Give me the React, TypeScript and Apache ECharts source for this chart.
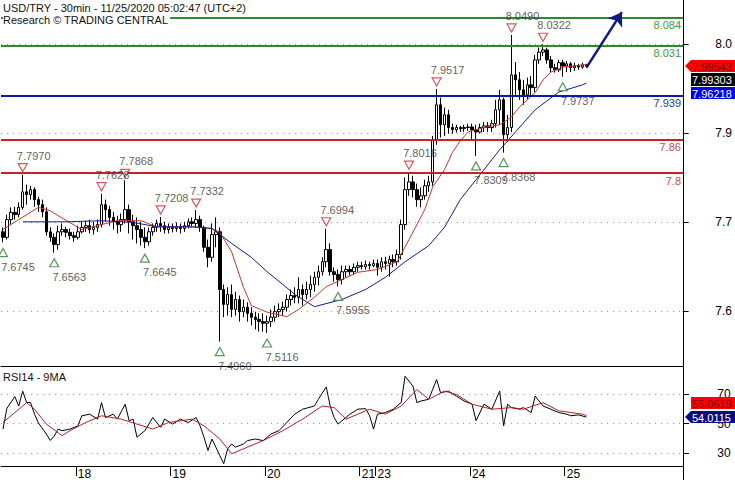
import React, { useEffect, useRef } from 'react';
import * as echarts from 'echarts';

// trading sessions: [day, first hour, last hour] (hourly slots)
const sessions: number[][] = [[17, 5, 23], [18, 0, 23], [19, 0, 23], [20, 0, 23], [21, 0, 3], [23, 0, 23], [24, 0, 23], [25, 0, 5]];
const futureSlots = 24;

// [open, close, low, high]
const candles: number[][] = [
  [7.694, 7.684, 7.675, 7.702], [7.684, 7.716, 7.680, 7.725], [7.716, 7.729, 7.707, 7.738], [7.729, 7.725, 7.716, 7.739],
  [7.725, 7.738, 7.720, 7.747], [7.738, 7.766, 7.734, 7.797], [7.766, 7.761, 7.743, 7.779], [7.761, 7.770, 7.752, 7.777],
  [7.770, 7.752, 7.739, 7.774], [7.752, 7.743, 7.730, 7.757], [7.743, 7.730, 7.720, 7.752], [7.730, 7.694, 7.687, 7.738],
  [7.694, 7.684, 7.676, 7.702], [7.684, 7.671, 7.6563, 7.691], [7.671, 7.694, 7.662, 7.705], [7.694, 7.698, 7.687, 7.709],
  [7.698, 7.693, 7.684, 7.703], [7.693, 7.687, 7.680, 7.700], [7.687, 7.684, 7.676, 7.694], [7.684, 7.694, 7.680, 7.705],
  [7.694, 7.702, 7.691, 7.712], [7.702, 7.705, 7.694, 7.714], [7.705, 7.698, 7.691, 7.716], [7.698, 7.702, 7.689, 7.712],
  [7.702, 7.707, 7.694, 7.716], [7.707, 7.743, 7.702, 7.7628], [7.743, 7.734, 7.712, 7.752], [7.734, 7.720, 7.705, 7.741],
  [7.720, 7.712, 7.698, 7.730], [7.712, 7.707, 7.691, 7.723], [7.707, 7.716, 7.694, 7.727], [7.716, 7.734, 7.709, 7.7868],
  [7.734, 7.712, 7.691, 7.743], [7.712, 7.705, 7.680, 7.725], [7.705, 7.698, 7.673, 7.720], [7.698, 7.684, 7.669, 7.712],
  [7.684, 7.676, 7.6645, 7.702], [7.676, 7.694, 7.669, 7.702], [7.694, 7.702, 7.687, 7.709], [7.702, 7.709, 7.694, 7.716],
  [7.709, 7.705, 7.694, 7.7208], [7.705, 7.698, 7.691, 7.712], [7.698, 7.702, 7.691, 7.709], [7.702, 7.700, 7.693, 7.709],
  [7.700, 7.703, 7.694, 7.711], [7.703, 7.700, 7.691, 7.709], [7.700, 7.705, 7.694, 7.712], [7.705, 7.712, 7.700, 7.718],
  [7.712, 7.709, 7.702, 7.720], [7.709, 7.716, 7.702, 7.7332], [7.716, 7.702, 7.694, 7.723], [7.702, 7.666, 7.658, 7.705],
  [7.666, 7.648, 7.630, 7.680], [7.648, 7.689, 7.640, 7.709], [7.689, 7.694, 7.666, 7.720], [7.694, 7.590, 7.4960, 7.702],
  [7.590, 7.563, 7.540, 7.599], [7.563, 7.581, 7.543, 7.594], [7.581, 7.554, 7.540, 7.599], [7.554, 7.572, 7.543, 7.586],
  [7.572, 7.550, 7.532, 7.579], [7.550, 7.558, 7.540, 7.572], [7.558, 7.547, 7.532, 7.567], [7.547, 7.540, 7.525, 7.558],
  [7.540, 7.536, 7.518, 7.550], [7.536, 7.532, 7.514, 7.547], [7.532, 7.529, 7.514, 7.547], [7.529, 7.532, 7.5116, 7.543],
  [7.532, 7.540, 7.522, 7.554], [7.540, 7.550, 7.532, 7.561], [7.550, 7.554, 7.540, 7.565], [7.554, 7.558, 7.543, 7.568],
  [7.558, 7.572, 7.550, 7.581], [7.572, 7.579, 7.561, 7.590], [7.579, 7.576, 7.565, 7.594], [7.576, 7.590, 7.565, 7.612],
  [7.590, 7.581, 7.561, 7.599], [7.581, 7.590, 7.572, 7.604], [7.590, 7.599, 7.576, 7.615], [7.599, 7.612, 7.586, 7.622],
  [7.612, 7.622, 7.597, 7.633], [7.622, 7.640, 7.615, 7.648], [7.640, 7.662, 7.630, 7.6994], [7.662, 7.622, 7.615, 7.673],
  [7.622, 7.617, 7.604, 7.630], [7.617, 7.608, 7.5955, 7.626], [7.608, 7.622, 7.599, 7.633], [7.622, 7.626, 7.612, 7.633],
  [7.626, 7.622, 7.615, 7.633], [7.622, 7.630, 7.617, 7.637], [7.630, 7.633, 7.622, 7.640], [7.633, 7.631, 7.626, 7.640],
  [7.631, 7.635, 7.626, 7.642], [7.635, 7.633, 7.626, 7.640], [7.633, 7.637, 7.630, 7.644], [7.637, 7.630, 7.615, 7.644],
  [7.630, 7.640, 7.622, 7.648], [7.640, 7.637, 7.626, 7.649], [7.637, 7.644, 7.613, 7.651], [7.644, 7.640, 7.630, 7.653],
  [7.640, 7.653, 7.633, 7.662], [7.653, 7.707, 7.644, 7.716], [7.707, 7.770, 7.698, 7.792], [7.770, 7.784, 7.759, 7.8016],
  [7.784, 7.770, 7.756, 7.795], [7.770, 7.752, 7.739, 7.781], [7.752, 7.759, 7.738, 7.774], [7.759, 7.777, 7.752, 7.788],
  [7.777, 7.784, 7.766, 7.795], [7.784, 7.860, 7.777, 7.867], [7.860, 7.923, 7.851, 7.9517], [7.923, 7.887, 7.864, 7.936],
  [7.887, 7.905, 7.867, 7.918], [7.905, 7.882, 7.871, 7.914], [7.882, 7.878, 7.871, 7.889], [7.878, 7.882, 7.873, 7.887],
  [7.882, 7.880, 7.874, 7.885], [7.880, 7.882, 7.874, 7.887], [7.882, 7.883, 7.876, 7.889], [7.883, 7.878, 7.860, 7.889],
  [7.878, 7.874, 7.8309, 7.887], [7.874, 7.882, 7.871, 7.889], [7.882, 7.885, 7.874, 7.892], [7.885, 7.882, 7.874, 7.892],
  [7.882, 7.889, 7.874, 7.896], [7.889, 7.914, 7.882, 7.932], [7.914, 7.932, 7.887, 7.950], [7.932, 7.869, 7.8368, 7.936],
  [7.869, 7.882, 7.856, 7.905], [7.882, 7.977, 7.874, 8.0490], [7.977, 7.968, 7.941, 8.000], [7.968, 7.950, 7.932, 7.982],
  [7.950, 7.941, 7.923, 7.968], [7.941, 7.959, 7.932, 7.972], [7.959, 7.954, 7.939, 7.975], [7.954, 8.004, 7.946, 8.013],
  [8.004, 8.018, 7.997, 8.026], [8.018, 8.022, 8.011, 8.0322], [8.022, 8.004, 7.997, 8.026], [8.004, 7.990, 7.982, 8.011],
  [7.990, 7.986, 7.981, 7.997], [7.986, 7.999, 7.982, 8.004], [7.999, 7.993, 7.9737, 8.004], [7.993, 7.997, 7.982, 8.002],
  [7.997, 7.990, 7.982, 8.000], [7.990, 7.993, 7.984, 7.999], [7.993, 7.991, 7.986, 7.997], [7.991, 7.995, 7.988, 7.999],
  [7.995, 7.99303, 7.990, 7.997],
];

// moving averages: [slot, value]
const maFast: number[][] = [[0, 7.698], [4, 7.716], [9, 7.738], [12, 7.732], [14, 7.723], [20, 7.698], [25, 7.707], [29, 7.714], [35, 7.714], [39, 7.703], [48, 7.703], [53, 7.700], [55, 7.693], [58, 7.658], [61, 7.594], [63, 7.561], [67, 7.549], [72, 7.541], [75, 7.554], [79, 7.576], [82, 7.595], [86, 7.608], [90, 7.621], [95, 7.626], [100, 7.640], [103, 7.680], [107, 7.734], [109, 7.775], [112, 7.806], [114, 7.837], [116, 7.858], [118, 7.874], [122, 7.882], [126, 7.887], [129, 7.901], [131, 7.919], [135, 7.945], [137, 7.968], [139, 7.982], [142, 7.991], [147, 7.995], [148, 7.99543]];
const maSlow: number[][] = [[5, 7.712], [16, 7.712], [25, 7.714], [33, 7.711], [39, 7.703], [48, 7.703], [53, 7.700], [58, 7.673], [63, 7.648], [67, 7.622], [71, 7.599], [74, 7.581], [79, 7.559], [86, 7.572], [92, 7.590], [97, 7.612], [102, 7.640], [108, 7.669], [112, 7.702], [116, 7.752], [120, 7.788], [126, 7.842], [135, 7.914], [141, 7.946], [147, 7.959], [148, 7.96218]];

// RSI14 and its 9MA: [slot, value]
const rsi: number[][] = [[0, 45.8], [1, 60], [3, 68], [4, 61.6], [5, 71.8], [6, 64], [7, 64], [8, 56], [9, 50], [11, 42.4], [12, 38], [13, 41], [14, 45.8], [15, 44.7], [17, 45.8], [19, 48], [20, 54.9], [22, 56], [24, 52.6], [25, 63.9], [26, 53.7], [28, 56], [29, 52.6], [31, 62.8], [32, 51.5], [33, 52.6], [34, 40.2], [36, 44.7], [38, 53.7], [40, 47], [41, 52.6], [43, 49.2], [45, 52.6], [47, 50.3], [49, 53.7], [50, 48], [51, 40.2], [52, 31.1], [53, 39], [54, 33.4], [55, 27.7], [56, 22.1], [57, 32.3], [58, 35.6], [59, 33.4], [61, 35.6], [62, 37.9], [64, 39], [66, 37.9], [68, 42.4], [70, 44.7], [72, 50.3], [74, 56], [76, 59.4], [79, 61.6], [80, 66.2], [82, 74.7], [83, 61.6], [84, 53.7], [85, 49.2], [88, 56], [90, 59.4], [92, 59.8], [93, 54.9], [94, 45.8], [95, 56], [97, 57.1], [99, 59.4], [101, 63.9], [102, 82], [104, 75.2], [105, 63.9], [106, 65], [108, 66.2], [110, 79.7], [111, 70.7], [113, 71.8], [115, 68.4], [117, 65], [119, 62.8], [120, 51.5], [122, 62.8], [124, 59.4], [126, 71.8], [127, 48], [128, 62.8], [129, 60.5], [131, 59.4], [132, 60.5], [134, 57.1], [135, 68.4], [137, 61.6], [139, 59.4], [141, 57.1], [143, 56], [144, 54.9], [146, 55.5], [148, 54.0115]];
const rsiMa: number[][] = [[0, 50.3], [3, 57.1], [6, 63.9], [8, 59.4], [11, 49.2], [15, 41.3], [17, 44.7], [21, 50.3], [25, 54.9], [30, 52.6], [34, 49.2], [38, 45.8], [42, 50.3], [48, 52.6], [51, 48], [55, 39], [58, 28.9], [62, 33.4], [66, 37.9], [71, 44.7], [76, 52.6], [81, 61.6], [84, 60.5], [87, 52.6], [90, 56], [93, 59.4], [97, 56], [101, 61.6], [105, 72.9], [108, 66.2], [112, 71.8], [115, 69.5], [119, 62.8], [124, 59.4], [129, 60.5], [132, 59.4], [137, 63.9], [141, 58.3], [147, 56], [148, 55.0619]];

// swing annotations
const highSlots = [5, 25, 31, 40, 49, 82, 103, 110, 129, 137];
const highValues = [7.7970, 7.7628, 7.7868, 7.7208, 7.7332, 7.6994, 7.8016, 7.9517, 8.0490, 8.0322];
const lowSlots = [0, 13, 36, 55, 67, 85, 120, 127, 142];
const lowValues = [7.6745, 7.6563, 7.6645, 7.4960, 7.5116, 7.5955, 7.8309, 7.8368, 7.9737];

// key levels
const resistances = [8.084, 8.031];
const pivot = [7.939];
const supports = [7.86, 7.8];

// forecast arrow [slot, value]
const arrowFrom = [148, 7.990];
const arrowTo = [157, 8.090];

const priceTickLabels = ['7.6', '7.7', '7.9', '8.0'];
const priceTags = [7.99543, 7.99303, 7.96218];
const rsiTags = [55.0619, 54.0115];

const FONT = '"Liberation Sans", Arial, sans-serif';

export default function App() {
  const ref = useRef<HTMLDivElement>(null);
  useEffect(() => {
    const chart = echarts.init(ref.current!, null, { renderer: 'svg' });

    const categories: string[] = [];
    const dayStart = new Set<number>();
    sessions.forEach(([d, a, b]) => {
      for (let h = a; h <= b; h++) {
        if (h === 0) dayStart.add(categories.length);
        categories.push(`${d}|${h}`);
      }
    });
    for (let i = 0; i < futureSlots; i++) categories.push(`|f${i}`);
    const isDay = (i: number) => dayStart.has(i);

    const L = 1, R = 52;
    const levelLine = (v: number, color: string, text: string) => ({
      yAxis: v,
      lineStyle: { color, width: 2, type: 'solid' },
      label: { show: true, position: 'insideEndBottom', formatter: String(v), color: text, fontSize: 11, fontFamily: FONT, distance: 2 },
    });

    const tagText = (x: number, y: number, txt: string, fill: string) => ({
      type: 'text', x, y, z: 101,
      style: { text: txt, fill, font: `11px ${FONT}`, verticalAlign: 'middle', align: 'left' },
    });

    const dotted = { color: '#9a9a9a', type: [1, 5], width: 1 };

    const option: any = {
      animation: false,
      backgroundColor: '#ffffff',
      textStyle: { fontFamily: FONT },
      grid: [
        { left: L, right: R, top: 0, height: 366 },
        { left: L, right: R, top: 366, height: 101 },
        { left: L, right: R, top: 44, height: 267 },
        { left: L, right: R, top: 394, height: 59 },
      ],
      xAxis: [
        { type: 'category', gridIndex: 0, data: categories, boundaryGap: true, axisLine: { show: true, onZero: false, lineStyle: { color: '#000', width: 1 } }, axisTick: { show: false }, axisLabel: { show: false }, splitLine: { show: false } },
        {
          type: 'category', gridIndex: 1, data: categories, boundaryGap: true,
          axisLine: { show: true, onZero: false, lineStyle: { color: '#000', width: 1 } },
          axisTick: { show: true, interval: isDay, length: 10, lineStyle: { color: '#000' } },
          axisLabel: { show: true, interval: isDay, formatter: (v: string) => v.split('|')[0], align: 'left', margin: 2, color: '#000', fontSize: 12, fontFamily: FONT },
          splitLine: { show: false },
        },
        { type: 'value', gridIndex: 2, min: 1, max: 2, show: false, axisLine: { onZero: false } },
        { type: 'value', gridIndex: 3, min: 1, max: 2, show: false, axisLine: { onZero: false } },
      ],
      yAxis: [
        { type: 'value', gridIndex: 0, position: 'right', min: 7.452, max: 8.112, axisLine: { show: true, onZero: false, lineStyle: { color: '#000' } }, axisTick: { show: false }, axisLabel: { show: false }, splitLine: { show: false } },
        { type: 'value', gridIndex: 1, position: 'right', min: 20.5, max: 89, axisLine: { show: true, onZero: false, lineStyle: { color: '#000' } }, axisTick: { show: false }, axisLabel: { show: false }, splitLine: { show: false } },
        {
          type: 'value', gridIndex: 2, position: 'right', min: 1, max: 4, interval: 1,
          axisLine: { show: false, onZero: false }, axisTick: { show: true, inside: false, length: 6, lineStyle: { color: '#000' } },
          axisLabel: { show: true, formatter: (v: number) => priceTickLabels[Math.round(v) - 1] || '', align: 'center', margin: 41, color: '#000', fontSize: 12, fontFamily: FONT },
          splitLine: { show: true, lineStyle: dotted },
        },
        {
          type: 'value', gridIndex: 3, position: 'right', min: 30, max: 70, interval: 20,
          axisLine: { show: false, onZero: false }, axisTick: { show: true, inside: false, length: 6, lineStyle: { color: '#000' } },
          axisLabel: { show: true, align: 'center', margin: 41, color: '#000', fontSize: 12, fontFamily: FONT },
          splitLine: { show: true, lineStyle: dotted },
        },
      ],
      series: [
        { type: 'line', xAxisIndex: 2, yAxisIndex: 2, data: [], silent: true },
        { type: 'line', xAxisIndex: 3, yAxisIndex: 3, data: [], silent: true },
        {
          type: 'candlestick', xAxisIndex: 0, yAxisIndex: 0, data: candles, barWidth: 3,
          itemStyle: { color: '#ffffff', color0: '#000000', borderColor: '#000000', borderColor0: '#000000', borderWidth: 1 },
          markLine: {
            silent: true, symbol: ['none', 'none'], symbolSize: 13,
            data: [
              ...resistances.map((v) => levelLine(v, '#2f8a2f', '#3f9a3f')),
              ...pivot.map((v) => levelLine(v, '#0a1aa8', '#2a3a9a')),
              ...supports.map((v) => levelLine(v, '#cc1f1f', '#c84a4a')),
              [
                { coord: arrowFrom, symbol: 'none', lineStyle: { color: '#0d1b7a', width: 2.5, type: 'solid' }, label: { show: false } },
                { coord: arrowTo, symbol: 'arrow' },
              ],
            ],
          },
          z: 3,
        },
        { type: 'line', xAxisIndex: 0, yAxisIndex: 0, data: maFast, showSymbol: false, smooth: false, lineStyle: { color: '#c0392b', width: 1 }, z: 4 },
        { type: 'line', xAxisIndex: 0, yAxisIndex: 0, data: maSlow, showSymbol: false, smooth: false, lineStyle: { color: '#1a1a8c', width: 1 }, z: 4 },
        {
          type: 'scatter', xAxisIndex: 0, yAxisIndex: 0, data: highSlots.map((s, i) => [s, highValues[i]]),
          symbol: 'triangle', symbolRotate: 180, symbolSize: [9, 8], symbolOffset: [0, -7],
          itemStyle: { color: '#ffffff', borderColor: '#c83232', borderWidth: 1.2 }, z: 6,
        },
        {
          type: 'scatter', xAxisIndex: 0, yAxisIndex: 0, data: lowSlots.map((s, i) => [s, lowValues[i]]),
          symbol: 'triangle', symbolSize: [9, 8], symbolOffset: [0, 10],
          itemStyle: { color: '#ffffff', borderColor: '#2e7d32', borderWidth: 1.2 }, z: 6,
        },
        {
          type: 'scatter', xAxisIndex: 0, yAxisIndex: 0, data: highSlots.map((s, i) => [s, highValues[i]]),
          symbol: 'circle', symbolSize: 1, itemStyle: { color: 'rgba(0,0,0,0)' },
          label: { show: true, position: 'inside', offset: [11, -19], formatter: (p: any) => highValues[p.dataIndex].toFixed(4), color: '#333', fontSize: 11, fontFamily: FONT },
          z: 7,
        },
        {
          type: 'scatter', xAxisIndex: 0, yAxisIndex: 0, data: lowSlots.map((s, i) => [s, lowValues[i]]),
          symbol: 'circle', symbolSize: 1, itemStyle: { color: 'rgba(0,0,0,0)' },
          label: { show: true, position: 'inside', offset: [15, 24], formatter: (p: any) => lowValues[p.dataIndex].toFixed(4), color: '#333', fontSize: 11, fontFamily: FONT },
          z: 7,
        },
        { type: 'line', xAxisIndex: 1, yAxisIndex: 1, data: rsi, showSymbol: false, lineStyle: { color: '#000000', width: 1 }, z: 4 },
        { type: 'line', xAxisIndex: 1, yAxisIndex: 1, data: rsiMa, showSymbol: false, lineStyle: { color: '#b22222', width: 1 }, z: 5 },
      ],
      graphic: [
        { type: 'text', x: 3, y: 2, z: 100, style: { text: 'USD/TRY - 30min - 11/25/2020 05:02:47 (UTC+2)', fill: '#111', font: `11px ${FONT}`, backgroundColor: '#ffffff' } },
        { type: 'text', x: 3, y: 14, z: 100, style: { text: 'Research © TRADING CENTRAL', fill: '#111', font: `11px ${FONT}`, backgroundColor: '#ffffff', padding: [0, 2, 1, 0] } },
        { type: 'text', x: 3, y: 371, z: 100, style: { text: 'RSI14 - 9MA', fill: '#111', font: `11px ${FONT}` } },
        // price tags
        { type: 'polygon', z: 100, shape: { points: [[685, 66], [691, 60], [735, 60], [735, 72], [691, 72]] }, style: { fill: '#ff0000' } },
        tagText(692, 66.5, priceTags[0].toFixed(5), '#7a0000'),
        { type: 'rect', z: 100, shape: { x: 691, y: 73, width: 44, height: 13 }, style: { fill: '#000000' } },
        tagText(692, 80, priceTags[1].toFixed(5), '#ffffff'),
        { type: 'rect', z: 100, shape: { x: 691, y: 87, width: 44, height: 12 }, style: { fill: '#0000ee' } },
        tagText(692, 93.5, priceTags[2].toFixed(5), '#ffffff'),
        // rsi tags
        { type: 'rect', z: 100, shape: { x: 691, y: 397, width: 44, height: 12 }, style: { fill: '#ff0000' } },
        tagText(692, 403.5, rsiTags[0].toFixed(4), '#7a0000'),
        { type: 'polygon', z: 100, shape: { points: [[685, 417], [691, 411], [735, 411], [735, 423], [691, 423]] }, style: { fill: '#0a0a80' } },
        tagText(692, 417.5, rsiTags[1].toFixed(4), '#ffffff'),
        { type: 'line', z: 100, shape: { x1: 683.5, y1: 467, x2: 683.5, y2: 480 }, style: { stroke: '#000', lineWidth: 1 } },
      ],
    };
    chart.setOption(option);
    return () => chart.dispose();
  }, []);
  return <div ref={ref} style={{ position: 'absolute', left: 0, top: 0, width: 735, height: 480, background: '#fff' }} />;
}
